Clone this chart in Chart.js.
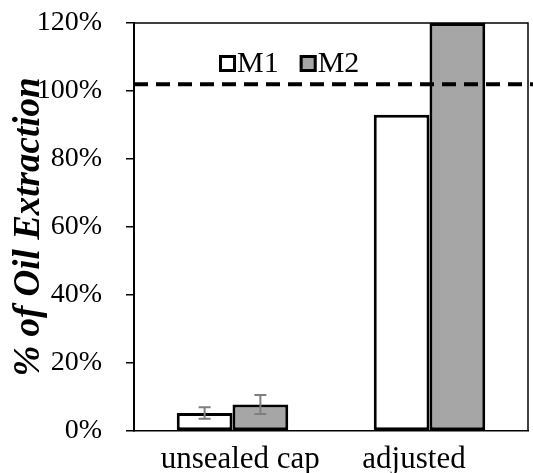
<!DOCTYPE html>
<html>
<head>
<meta charset="utf-8">
<script src="https://cdn.jsdelivr.net/npm/chart.js@4/dist/chart.umd.min.js"></script>
<style>
html,body{margin:0;padding:0;background:#fff;}
#wrap{width:533px;height:473px;}
</style>
</head>
<body>
<div id="wrap"><canvas id="c" width="533" height="473"></canvas></div>
<script>
const categories = ["unsealed cap", "adjusted"];
const seriesNames = ["M1", "M2"];
const m1Values = [5.3, 93];
const m2Values = [7.8, 120];
const m1Errors = [1.7, null];
const m2Errors = [2.8, null];
const referenceLine = 102;
const yTicks = [0, 20, 40, 60, 80, 100, 120];

const serif = "'Liberation Serif', 'Times New Roman', serif";

const errorBarPlugin = {
  id: 'errorBars',
  afterDatasetsDraw(chart) {
    const ctx = chart.ctx;
    const y = chart.scales.y;
    const errs = [m1Errors, m2Errors];
    ctx.save();
    ctx.strokeStyle = '#7f7f7f';
    ctx.lineWidth = 2;
    chart.data.datasets.forEach((ds, di) => {
      const meta = chart.getDatasetMeta(di);
      meta.data.forEach((bar, i) => {
        const e = errs[di][i];
        if (e == null) return;
        const v = ds.data[i];
        const x = bar.x;
        const yt = y.getPixelForValue(v + e);
        const yb = y.getPixelForValue(v - e);
        ctx.beginPath();
        ctx.moveTo(x, yt); ctx.lineTo(x, yb);
        ctx.moveTo(x - 6, yt); ctx.lineTo(x + 6, yt);
        ctx.moveTo(x - 6, yb); ctx.lineTo(x + 6, yb);
        ctx.stroke();
      });
    });
    ctx.restore();
  }
};

const framePlugin = {
  id: 'frame',
  beforeDatasetsDraw(chart) {
    const {ctx, chartArea: a} = chart;
    ctx.save();
    ctx.strokeStyle = '#000';
    ctx.lineWidth = 1.5;
    ctx.beginPath();
    ctx.moveTo(a.left, a.top);
    ctx.lineTo(a.right, a.top);
    ctx.lineTo(a.right, a.bottom);
    ctx.stroke();
    ctx.restore();
  },
  afterDatasetsDraw(chart) {
    const {ctx, chartArea: a} = chart;
    const yy = chart.scales.y.getPixelForValue(referenceLine);
    ctx.save();
    ctx.strokeStyle = '#000';
    ctx.lineWidth = 4;
    ctx.setLineDash([14, 8]);
    ctx.beginPath();
    ctx.moveTo(a.left, yy);
    ctx.lineTo(chart.width, yy);
    ctx.stroke();
    ctx.restore();
  },
  afterDraw(chart) {
    const {ctx, chartArea: a} = chart;
    ctx.save();
    ctx.font = '30px ' + serif;
    ctx.textBaseline = 'middle';
    ctx.fillStyle = '#000';
    let x = a.left + 85;
    const cy = 63;
    chart.data.datasets.forEach((ds, di) => {
      ctx.fillStyle = ds.backgroundColor;
      ctx.fillRect(x, cy - 8, 17, 17);
      ctx.strokeStyle = '#000';
      ctx.lineWidth = 3;
      ctx.strokeRect(x + 1.5, cy - 6.5, 14, 14);
      ctx.fillStyle = '#000';
      ctx.textAlign = 'left';
      ctx.fillText(ds.label, x + 18, cy + 1);
      x += 18 + ctx.measureText(ds.label).width + 21;
    });
    ctx.restore();
  }
};

new Chart(document.getElementById('c'), {
  type: 'bar',
  data: {
    labels: categories,
    datasets: [
      { label: seriesNames[0], data: m1Values, backgroundColor: '#ffffff', borderColor: '#000', borderWidth: 3, borderSkipped: false },
      { label: seriesNames[1], data: m2Values, backgroundColor: '#a6a6a6', borderColor: '#000', borderWidth: 3, borderSkipped: false }
    ]
  },
  options: {
    responsive: false,
    animation: false,
    devicePixelRatio: 1,
    layout: { padding: { top: 23, right: 5, left: 0, bottom: 0 } },
    plugins: { legend: { display: false }, tooltip: { enabled: false } },
    datasets: { bar: { categoryPercentage: 0.566, barPercentage: 1.0 } },
    scales: {
      x: {
        grid: { display: false },
        border: { display: true, color: '#000', width: 1.5 },
        ticks: {
          color: '#000', font: { family: serif, size: 31 }, padding: 2, maxRotation: 0,
          callback: (v, i) => i === 0 ? '  ' + categories[i] : categories[i] + '    '
        },
        afterFit(s) { s.height = 42; s.paddingLeft = 0; s.paddingRight = 0; }
      },
      y: {
        min: 0, max: 120,
        afterBuildTicks(s) { s.ticks = yTicks.map(v => ({ value: v })); },
        grid: { drawOnChartArea: false, color: '#000', tickLength: 8, lineWidth: 1.5 },
        border: { display: true, color: '#000', width: 2 },
        ticks: { color: '#000', font: { family: serif, size: 28 }, padding: 24, callback: v => v + '%' },
        title: { display: true, text: '% of Oil Extraction', color: '#000', font: { family: serif, size: 37, weight: 'bold', style: 'italic' }, padding: { top: 7, bottom: 0 } },
        afterFit(s) { s.width = 134; s.paddingTop = 0; s.paddingBottom = 0; }
      }
    }
  },
  plugins: [errorBarPlugin, framePlugin]
});
</script>
</body>
</html>
